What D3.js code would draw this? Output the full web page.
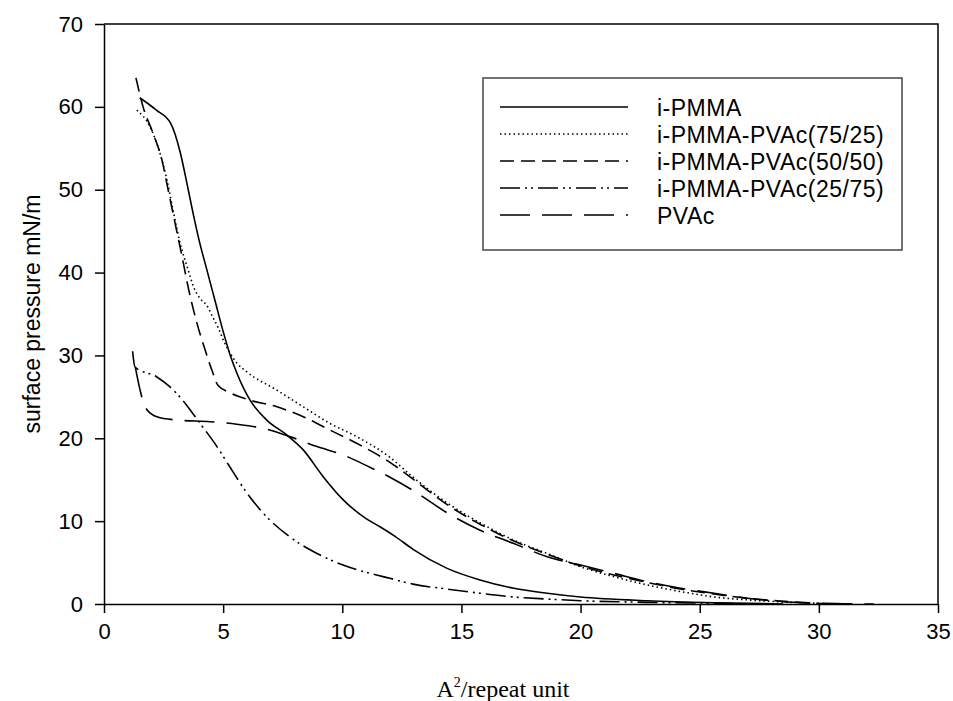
<!DOCTYPE html>
<html lang="en">
  <head>
    <script src="https://d3js.org/d3.v7.min.js"></script>
    <meta charset="utf-8"/>
    <title>Surface pressure isotherms</title>
    <style>
      body { margin: 0; background: #fff; }
      text { font-family: "Liberation Sans", Arial, sans-serif; fill: #000; }
    </style>
  </head>
  <body>
    <svg id="chart"></svg>
    <script>
      const width = 953;
      const height = 701;

      // plot frame in pixels
      const plotLeft = 104, plotRight = 938, plotTop = 24, plotBottom = 604;

      const xTicks = [0, 5, 10, 15, 20, 25, 30, 35];
      const yTicks = [0, 10, 20, 30, 40, 50, 60, 70];

      const seriesNames = ["i-PMMA", "i-PMMA-PVAc(75/25)", "i-PMMA-PVAc(50/50)", "i-PMMA-PVAc(25/75)", "PVAc"];

      const pmmaX = [1.5, 2.2, 2.8, 3.2, 3.5, 3.75, 4.0, 4.32, 4.66, 5.0, 5.3, 5.6, 6.13, 6.83, 7.67, 8.36, 9.19, 10.03, 11.0, 11.6, 12.2, 12.97, 14.4, 15.78, 17.2, 18.6, 20, 22.8, 25.6, 28.5];
      const pmmaY = [61.1, 59.6, 58.0, 54.5, 50.5, 47.0, 43.8, 40.3, 36.6, 32.9, 30.0, 27.7, 24.6, 22.2, 20.4, 18.6, 15.4, 12.6, 10.3, 9.3, 8.2, 6.6, 4.3, 2.9, 1.9, 1.3, 0.85, 0.4, 0.15, 0];

      const p7525X = [1.38, 1.93, 2.35, 2.64, 2.9, 3.19, 3.5, 3.8, 4.05, 4.3, 4.57, 4.8, 5.0, 5.29, 5.57, 6.0, 7.26, 8.36, 9.48, 10.6, 12.0, 12.97, 14.4, 15.78, 17.2, 18.6, 20, 21.4, 22.8, 24.2, 25.6, 27, 28.4, 29.8, 30.5];
      const p7525Y = [59.6, 57.6, 54.4, 51.2, 47.5, 43.6, 40.6, 38.0, 36.8, 36.1, 34.6, 33.3, 31.9, 30.3, 29.1, 28.0, 25.8, 23.8, 21.8, 20.2, 17.7, 15.3, 12.2, 9.8, 7.7, 6.1, 4.5, 3.3, 2.3, 1.5, 0.85, 0.5, 0.25, 0.1, 0];

      const p5050X = [1.34, 1.64, 2.06, 2.43, 2.69, 2.98, 3.27, 3.55, 3.9, 4.24, 4.53, 4.78, 5.29, 6.13, 7.26, 8.36, 9.48, 10.6, 12.0, 13.0, 14.4, 15.8, 17.2, 18.6, 20, 21.4, 22.8, 24.2, 25.6, 27, 28.4, 29.8, 30.5];
      const p5050Y = [63.5, 60, 56.8, 53.6, 50, 46, 42.0, 38.0, 33.9, 30.7, 28.2, 26.4, 25.5, 24.6, 23.8, 22.6, 21.0, 19.4, 17.1, 15.0, 12.0, 9.6, 7.6, 6.0, 4.6, 3.5, 2.6, 1.8, 1.2, 0.7, 0.35, 0.1, 0];

      const p2575X = [1.2, 1.3, 2.22, 2.77, 3.3, 4.03, 4.74, 5.29, 6.0, 6.67, 7.8, 8.94, 10.03, 11.16, 12.0, 12.97, 14.4, 15.78, 17.2, 18.6, 20, 22.8, 25.6, 28];
      const p2575Y = [30.5, 28.6, 27.4, 26.2, 24.6, 21.8, 19.0, 16.5, 13.4, 11.0, 8.1, 6.1, 4.7, 3.7, 3.1, 2.4, 1.8, 1.3, 0.85, 0.6, 0.4, 0.2, 0.1, 0];

      const pvacX = [1.32, 1.5, 1.72, 2.22, 3.06, 4.45, 5.57, 6.67, 7.8, 8.94, 10.03, 11.16, 12.0, 12.97, 14.4, 15.78, 17.2, 18.6, 20, 21.4, 22.8, 24.2, 25.6, 27, 28.4, 29.8, 31, 32.3];
      const pvacY = [28.5, 26.0, 23.8, 22.6, 22.2, 22.0, 21.7, 21.2, 20.2, 19.0, 18.0, 16.5, 15.3, 13.7, 11.0, 8.9, 7.3, 5.7, 4.7, 3.7, 2.7, 1.9, 1.3, 0.7, 0.3, 0.1, 0.03, 0];

      const seriesX = [pmmaX, p7525X, p5050X, p2575X, pvacX];
      const seriesY = [pmmaY, p7525Y, p5050Y, p2575Y, pvacY];
      const dashes = [null, "1.5,3", "14,7", "20,5,2,4,2,5", "30,12"];

      const svg = d3.select("#chart")
        .attr("width", width)
        .attr("height", height);

      const x = d3.scaleLinear().domain([0, 35]).range([plotLeft, plotRight]);
      const y = d3.scaleLinear().domain([0, 70]).range([plotBottom, plotTop]);

      // frame top and right
      svg.append("path")
        .attr("d", `M${plotLeft},${plotTop}H${plotRight}V${plotBottom}`)
        .attr("fill", "none")
        .attr("stroke", "#000")
        .attr("stroke-width", 1.5);

      const xAxis = svg.append("g")
        .attr("transform", "translate(0," + plotBottom + ")")
        .call(d3.axisBottom(x).tickValues(xTicks).tickSize(9).tickPadding(10).tickSizeOuter(0));

      const yAxis = svg.append("g")
        .attr("transform", "translate(" + plotLeft + ",0)")
        .call(d3.axisLeft(y).tickValues(yTicks).tickSize(9).tickPadding(12).tickSizeOuter(0));

      [xAxis, yAxis].forEach(g => {
        g.select(".domain").attr("stroke", "#000").attr("stroke-width", 1.5);
        g.selectAll(".tick line").attr("stroke", "#000").attr("stroke-width", 1.5);
        g.selectAll(".tick text")
          .style("font-family", "'Liberation Sans', Arial, sans-serif")
          .style("font-size", "22px")
          .attr("fill", "#000");
      });

      const line = d3.line()
        .x(d => x(d[0]))
        .y(d => y(d[1]))
        .curve(d3.curveMonotoneX);

      seriesNames.forEach((name, i) => {
        const pts = seriesX[i].map((v, k) => [v, seriesY[i][k]]);
        svg.append("path")
          .datum(pts)
          .attr("d", line)
          .attr("fill", "none")
          .attr("stroke", "#000")
          .attr("stroke-width", 1.6)
          .attr("stroke-dasharray", dashes[i]);
      });

      // legend
      const legend = svg.append("g");
      legend.append("rect")
        .attr("x", 483).attr("y", 78)
        .attr("width", 419).attr("height", 172)
        .attr("fill", "#fff")
        .attr("stroke", "#444")
        .attr("stroke-width", 1.5);

      seriesNames.forEach((name, i) => {
        const ly = 107 + i * 27;
        legend.append("line")
          .attr("x1", 500).attr("x2", 628)
          .attr("y1", ly).attr("y2", ly)
          .attr("stroke", "#000")
          .attr("stroke-width", 1.6)
          .attr("stroke-dasharray", dashes[i]);
        legend.append("text")
          .attr("x", 657).attr("y", ly + 9)
          .style("font-size", "23px")
          .style("letter-spacing", "0.5px")
          .text(name);
      });

      // axis titles
      svg.append("text")
        .attr("transform", "translate(40," + ((plotTop + plotBottom) / 2) + ") rotate(-90)")
        .attr("text-anchor", "middle")
        .style("font-size", "23px")
        .text("surface pressure mN/m");

      const xt = svg.append("text")
        .attr("x", (plotLeft + plotRight) / 2 - 18)
        .attr("y", 697)
        .attr("text-anchor", "middle")
        .style("font-family", "'Liberation Serif', 'Times New Roman', serif")
        .style("font-size", "24px");
      xt.append("tspan").text("A");
      xt.append("tspan").attr("dy", -10).style("font-size", "14px").text("2");
      xt.append("tspan").attr("dy", 10).text("/repeat unit");
    </script>
  </body>
</html>
